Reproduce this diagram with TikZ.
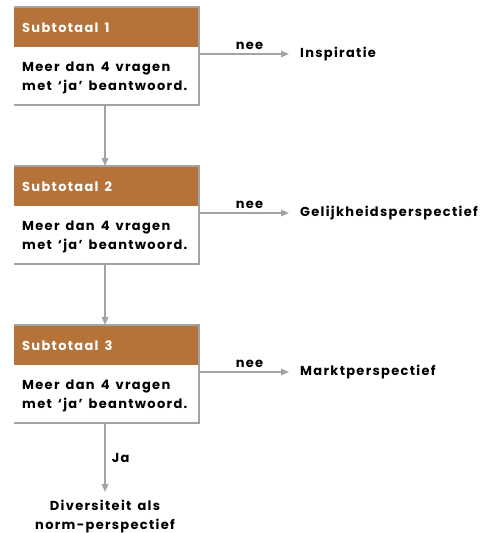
\documentclass[tikz,border=0pt]{standalone}
\usepackage{fontspec}
\setmainfont{Poppins}[LetterSpace=10,WordSpace=1.5]
\usetikzlibrary{arrows.meta}
\definecolor{hdr}{HTML}{B5733A}
\definecolor{ln}{HTML}{A3A3A3}
\begin{document}
\begin{tikzpicture}[x=1pt,y=-1pt,
  txt/.style={font=\bfseries\fontsize{13}{19}\selectfont, inner sep=0pt, text=black},
  htxt/.style={txt, text=white, anchor=west},
  conn/.style={draw=ln, line width=1.6pt, -{Triangle[length=8pt,width=6.5pt]}},
  bord/.style={draw=ln, line width=2pt}]
\useasboundingbox (0,0) rectangle (483,533);
\foreach \i/\t/\lab in {1/7/Inspiratie,2/166/Gelijkheidsperspectief,3/325/Marktperspectief}{
  \fill[white] (14,\t) rectangle (199,\t+98);
  \fill[hdr] (14,\t+1) rectangle (198,\t+40);
  \draw[bord] (14,\t) -- (199,\t) -- (199,\t+98) -- (14,\t+98);
  \node[htxt] (h\i) at (22,\t+21) {Subtotaal \i};
  \node[txt, anchor=north west, align=left] (b\i) at (22,\t+54.5) {Meer dan 4 vragen\\met ‘ja’ beantwoord.};
  \coordinate (r\i) at (199,\t+47);
  \node[txt, anchor=west] (o\i) at (300,\t+47) {\lab};
  \draw[conn, shorten >=11pt] (r\i) -- (o\i.west) node[midway, above=4pt, txt] {nee};
  \coordinate (bt\i) at (105,\t+98);
  \coordinate (tp\i) at (105,\t);
}
\draw[conn] (bt1) -- (tp2);
\draw[conn] (bt2) -- (tp3);
\node[txt, align=center, anchor=north] (fin) at (105,500) {Diversiteit als\\norm-perspectief};
\draw[conn] (bt3) -- ([yshift=8pt]fin.north) node[midway, right=6pt, txt] {Ja};
\end{tikzpicture}
\end{document}
